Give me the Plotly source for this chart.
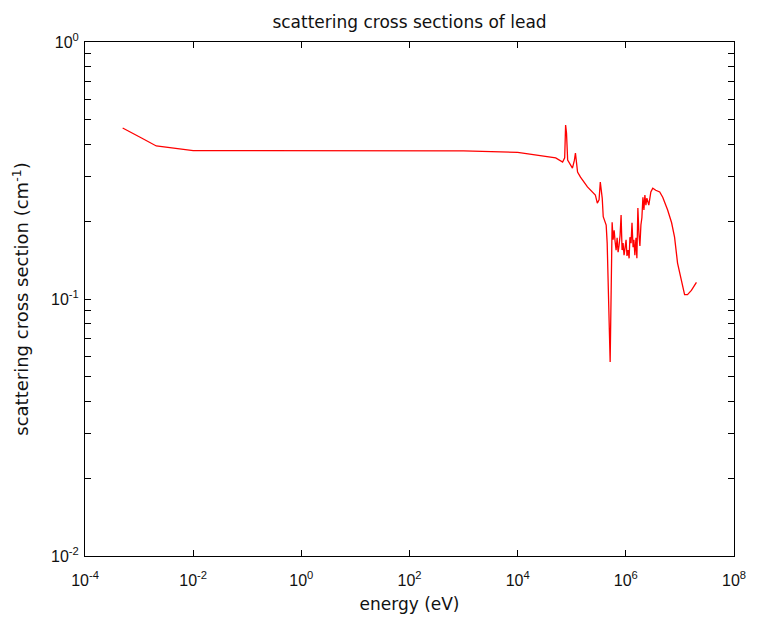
import plotly.graph_objects as go

energy_eV = [
    4.97e-4, 7.57e-4, 1.11e-3, 2.08e-3, 3.93e-3, 6.79e-3, 1.0e-2, 1e-1, 1e0, 1e1, 1e2, 1e3, 1e4,
    2.17e4, 5.05e4, 6.78e4, 7.4e4, 7.7e4, 8.0e4, 8.4e4, 1.03e5, 1.12e5, 1.17e5, 1.28e5, 1.45e5,
    1.95e5, 2.73e5, 2.97e5, 3.2e5, 3.37e5, 3.66e5, 3.82e5, 4.33e5, 4.52e5, 4.72e5, 4.92e5,
    5.13e5, 5.36e5, 5.58e5,
    5.82e5, 6.08e5, 6.34e5, 6.61e5, 6.90e5, 7.19e5, 7.50e5, 7.83e5, 8.17e5, 8.52e5, 8.89e5,
    9.27e5, 9.67e5, 1.01e6, 1.05e6, 1.10e6, 1.15e6, 1.19e6, 1.25e6, 1.30e6, 1.36e6, 1.41e6,
    1.47e6, 1.54e6, 1.60e6, 1.67e6, 1.75e6, 1.82e6, 1.90e6, 1.98e6, 2.07e6, 2.16e6, 2.25e6,
    2.35e6, 2.45e6, 2.66e6, 2.90e6, 3.15e6, 3.57e6, 4.23e6, 4.81e6, 5.23e6, 5.93e6, 7.02e6,
    7.96e6, 9.04e6, 1.07e7, 1.22e7, 1.38e7, 1.63e7, 2.02e7,
]
sigma_cm1 = [
    0.463, 0.443, 0.423, 0.394, 0.387, 0.380, 0.378, 0.378, 0.378, 0.378, 0.378, 0.377, 0.372,
    0.363, 0.354, 0.341, 0.354, 0.475, 0.442, 0.347, 0.323, 0.347, 0.370, 0.312, 0.298,
    0.273, 0.254, 0.236, 0.243, 0.285, 0.247, 0.209, 0.194, 0.165, 0.126, 0.0807,
    0.0569, 0.106, 0.199,
    0.170, 0.185, 0.167, 0.155, 0.173, 0.152, 0.162, 0.177, 0.212, 0.155, 0.165,
    0.148, 0.158, 0.170, 0.147, 0.155, 0.144, 0.174, 0.165, 0.198, 0.159, 0.170,
    0.148, 0.173, 0.144, 0.226, 0.177, 0.161, 0.194, 0.207, 0.249, 0.222, 0.254,
    0.232, 0.247, 0.232, 0.261, 0.270, 0.265, 0.261, 0.249, 0.238, 0.222, 0.198,
    0.174, 0.138, 0.116, 0.104, 0.104, 0.108, 0.116,
]

x_tick_exps = [-4, -2, 0, 2, 4, 6, 8]
y_decades = [-2, -1]

y_tickvals = []
y_ticktext = []
for e in y_decades:
    for m in range(1, 10):
        y_tickvals.append(m * 10.0 ** e)
        y_ticktext.append(f"10<sup>{e}</sup>" if m == 1 else "")
y_tickvals.append(1.0)
y_ticktext.append("10<sup>0</sup>")

fig = go.Figure()
fig.add_trace(go.Scatter(x=energy_eV, y=sigma_cm1, mode="lines",
                         line=dict(color="#ff0000", width=1.3), showlegend=False))

tick_font = dict(family="Liberation Sans, Arial, sans-serif", size=16, color="#111111")
label_font = dict(family="DejaVu Sans, sans-serif", size=17, color="#111111")
ylabel_font = dict(family="DejaVu Sans, sans-serif", size=18, color="#111111")

axis_common = dict(showgrid=False, zeroline=False, showline=True, linecolor="black",
                   linewidth=1, ticks="inside", ticklen=6, tickcolor="black",
                   mirror="allticks", tickfont=tick_font)

fig.update_xaxes(type="log", range=[-4, 8],
                 tickvals=[10.0 ** e for e in x_tick_exps],
                 ticktext=[f"10<sup>{e}</sup>" for e in x_tick_exps],
                 ticklabelstandoff=10,
                 title=dict(text="energy (eV)", font=label_font, standoff=9),
                 **axis_common)
fig.update_yaxes(type="log", range=[-2, 0],
                 tickvals=y_tickvals, ticktext=y_ticktext,
                 ticklabelstandoff=2,
                 title=dict(text="scattering cross section (cm<sup>-1</sup>)",
                            font=ylabel_font, standoff=17),
                 **axis_common)

fig.update_layout(
    width=758, height=624,
    margin=dict(l=85, r=18, t=42, b=68),
    paper_bgcolor="white", plot_bgcolor="white",
    font=dict(family="DejaVu Sans, sans-serif", color="#111111"),
    title=dict(text="scattering cross sections of lead", x=0.5, xref="paper", xanchor="center",
               y=0.965, yanchor="middle", font=label_font),
)

fig.write_html("out.html")
